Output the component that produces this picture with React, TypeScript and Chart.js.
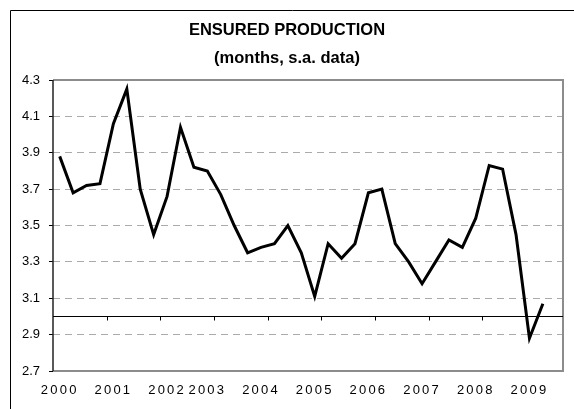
import React, { useEffect, useRef } from "react";
import { Chart, registerables } from "chart.js";

Chart.register(...registerables);

const TITLE_LINES = ["ENSURED PRODUCTION", "(months, s.a. data)"];

const X_LABELS = [
  "2000", "", "", "",
  "2001", "", "", "",
  "2002", "", "",
  "2003", "", "", "",
  "2004", "", "", "",
  "2005", "", "", "",
  "2006", "", "", "",
  "2007", "", "", "",
  "2008", "", "", "",
  "2009", "", "",
];

const VALUES: (number | null)[] = [
  3.88, 3.68, 3.72, 3.73,
  4.06, 4.25, 3.70, 3.45,
  3.66, 4.04, 3.82, 3.80,
  3.67, 3.50, 3.35, 3.38,
  3.40, 3.50, 3.35, 3.11,
  3.40, 3.32, 3.40, 3.68,
  3.70, 3.40, 3.30, 3.18,
  3.30, 3.42, 3.38, 3.54,
  3.83, 3.81, 3.45, 2.88,
  3.07, null,
];

const Y_MIN = 2.7;
const Y_MAX = 4.3;
const Y_STEP = 0.2;
const AXIS_CROSS = 3.0;
const TICK_EVERY = 4;

const FONT = "Arial, 'Liberation Sans', sans-serif";

const framePlugin = {
  id: "frame",
  afterLayout(chart: any) {
    const s: any = chart.scales.x;
    if (!s || s._patched) return;
    const orig = s.drawLabels.bind(s);
    s.drawLabels = (area: any) => {
      const ctx: any = chart.ctx;
      ctx.save();
      ctx.letterSpacing = "2.2px";
      orig(area);
      ctx.restore();
    };
    s._patched = true;
  },
  beforeDatasetsDraw(chart: any) {
    const { ctx, chartArea } = chart;
    const { left, top, right, bottom } = chartArea;
    const xs = chart.scales.x;
    const ys = chart.scales.y;
    ctx.save();
    ctx.strokeStyle = "#8c8c8c";
    ctx.lineWidth = 2;
    ctx.beginPath();
    ctx.moveTo(left, top);
    ctx.lineTo(right, top);
    ctx.lineTo(right, bottom);
    ctx.lineTo(left, bottom);
    ctx.stroke();
    ctx.strokeStyle = "#222";
    ctx.lineWidth = 1.5;
    ctx.beginPath();
    ctx.moveTo(left, top);
    ctx.lineTo(left, bottom);
    ctx.stroke();
    const yc = Math.round(ys.getPixelForValue(AXIS_CROSS)) + 0.5;
    ctx.strokeStyle = "#000";
    ctx.lineWidth = 1;
    ctx.beginPath();
    ctx.moveTo(left, yc);
    ctx.lineTo(right, yc);
    for (let k = TICK_EVERY; k < X_LABELS.length; k += TICK_EVERY) {
      const xb = Math.round((xs.getPixelForValue(k - 1) + xs.getPixelForValue(k)) / 2) + 0.5;
      ctx.moveTo(xb, yc);
      ctx.lineTo(xb, yc + 4);
    }
    ctx.stroke();
    ctx.restore();
  },
  afterDraw(chart: any) {
    const { ctx, width, height } = chart;
    ctx.save();
    ctx.strokeStyle = "#000";
    ctx.lineWidth = 1;
    ctx.beginPath();
    ctx.moveTo(10.5, height);
    ctx.lineTo(10.5, 10.5);
    ctx.lineTo(width, 10.5);
    ctx.stroke();
    ctx.fillStyle = "#000";
    ctx.font = `bold 16.5px ${FONT}`;
    ctx.textAlign = "center";
    ctx.textBaseline = "middle";
    ctx.fillText(TITLE_LINES[0], 287, 30);
    ctx.fillText(TITLE_LINES[1], 287, 58);
    ctx.restore();
  },
};

export default function App() {
  const ref = useRef<HTMLCanvasElement | null>(null);

  useEffect(() => {
    if (!ref.current) return;
    const chart = new Chart(ref.current, {
      type: "line",
      data: {
        labels: X_LABELS,
        datasets: [
          {
            data: VALUES,
            borderColor: "#000",
            borderWidth: 3,
            pointRadius: 0,
            tension: 0,
            fill: false,
          },
        ],
      },
      options: {
        animation: false,
        responsive: false,
        devicePixelRatio: 1,
        layout: { padding: { top: 80, right: 11, bottom: 0, left: 0 } },
        plugins: {
          legend: { display: false },
          title: { display: false },
          tooltip: { enabled: false },
        },
        scales: {
          x: {
            type: "category",
            offset: true,
            grid: { display: false },
            border: { display: false },
            ticks: {
              autoSkip: false,
              maxRotation: 0,
              minRotation: 0,
              padding: 4,
              color: "#000",
              font: { family: FONT, size: 13 },
            },
            afterFit(scale: any) {
              scale.height = 38;
            },
          },
          y: {
            min: Y_MIN,
            max: Y_MAX,
            grid: {
              color: "#ababab",
              lineWidth: 1,
              tickColor: "#000",
              tickLength: 4,
              drawTicks: true,
            },
            border: { display: false, dash: [7, 5] },
            ticks: {
              stepSize: Y_STEP,
              padding: 9,
              color: "#000",
              font: { family: FONT, size: 13 },
              callback: (v: any) => Number(v).toFixed(1),
            },
            afterFit(scale: any) {
              scale.width = 53;
            },
          },
        },
      },
      plugins: [framePlugin],
    });
    return () => chart.destroy();
  }, []);

  return (
    <div style={{ position: "absolute", left: 0, top: 0, width: 574, height: 409, background: "#fff" }}>
      <canvas ref={ref} width={574} height={409} style={{ display: "block" }} />
    </div>
  );
}
